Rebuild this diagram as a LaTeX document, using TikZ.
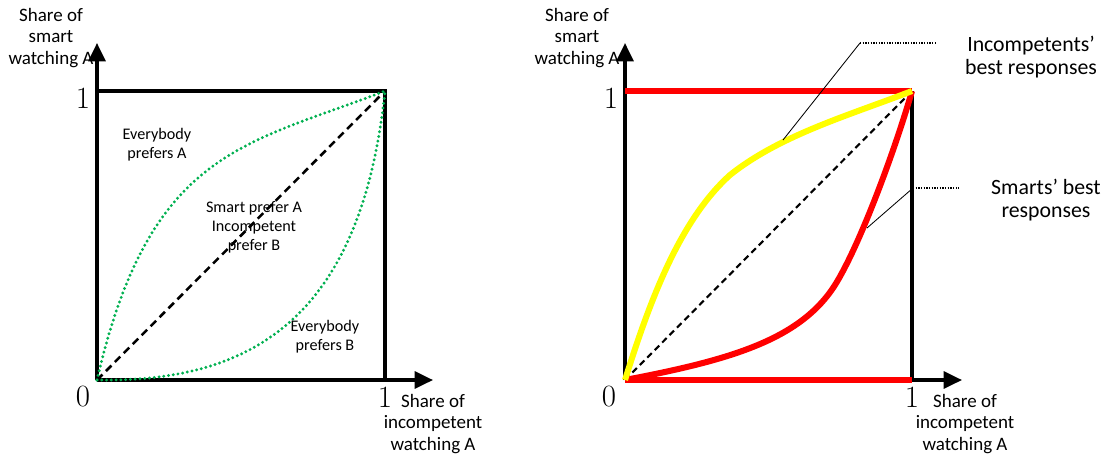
\documentclass[tikz,border=0pt]{standalone}
\usepackage{fontspec}
\newfontfamily\calibri{Carlito}
\usetikzlibrary{arrows.meta}
\definecolor{dotgreen}{RGB}{0,176,80}
\definecolor{brred}{RGB}{255,0,0}
\definecolor{bryellow}{RGB}{255,255,0}
\tikzset{
  axis/.style={line width=2.4pt, -{Triangle[length=13pt,width=12pt]}},
  frame/.style={line width=2.2pt},
  axislabel/.style={font=\calibri\fontsize{13.5}{15.6}\selectfont, align=center, inner sep=0pt},
  calloutlabel/.style={font=\calibri\fontsize{15.5}{16.5}\selectfont, align=center, inner sep=0pt},
  region/.style={font=\calibri\fontsize{11.5}{13.5}\selectfont, align=center, inner sep=0pt},
  tick/.style={font=\fontsize{22}{26}\selectfont, inner sep=0pt},
  diag/.style={line width=1.8pt, dash pattern=on 5.5pt off 3.5pt},
  pref/.style={dotgreen, line width=2.3pt, line cap=round, dash pattern=on 0pt off 3.4pt},
  resp/.style={line width=4.3pt},
  callout/.style={line width=0.6pt},
  leader/.style={line width=0.9pt, densely dotted}
}
\begin{document}
\begin{tikzpicture}[x=0.025cm, y=-0.025cm]
    \useasboundingbox (0,0) rectangle (1105,462);

    % Panneau gauche
    \coordinate (O1) at (97,380);
    \coordinate (X1) at (385,380);
    \coordinate (Y1) at (97,91);
    \coordinate (C1) at (385,91);
    \draw[axis] (O1) -- (97,43) coordinate (Ytip1);
    \draw[axis] (O1) -- (433,380) coordinate (Xtip1);
    \draw[frame] (Y1) -- (C1) -- (X1);
    \draw[diag] (O1) -- (C1);
    \draw[pref] (O1) .. controls (150,150) and (245,145) .. (C1);
    \draw[pref] (O1) .. controls (240,382) and (360,330) .. (C1);

    \node[axislabel] (ylab1) at (51,38) {Share of\\smart\\watching A};
    \node[axislabel] (xlab1) at (433,424) {Share of\\incompetent\\watching A};
    \node[tick] (one1y) at (83,98) {1};
    \node[tick] (zero1) at (83,397) {0};
    \node[tick] (one1x) at (385,397) {1};
    \node[region] (allA) at (157,145) {Everybody\\prefers A};
    \node[region] (mixed) at (254,227) {Smart prefer A\\Incompetent\\prefer B};
    \node[region] (allB) at (325,337) {Everybody\\prefers B};

    % Panneau droit
    \coordinate (O2) at (625,380);
    \coordinate (X2) at (912,380);
    \coordinate (Y2) at (625,91);
    \coordinate (C2) at (912,91);
    \draw[axis] (O2) -- (625,43) coordinate (Ytip2);
    \draw[axis] (O2) -- (962,380) coordinate (Xtip2);
    \draw[frame] (C2) -- (X2);
    \draw[diag, line width=1.5pt, dash pattern=on 4.5pt off 3pt] (O2) -- (C2);
    \draw[resp, brred] (Y2) -- (C2);
    \draw[resp, brred] (O2) -- (X2);
    \draw[resp, brred] (O2) .. controls (730,360) and (800,340) .. (835,285)
                       .. controls (860,245) and (895,150) .. (C2);
    \draw[resp, bryellow] (O2) .. controls (650,300) and (680,220) .. (730,175)
                          .. controls (780,135) and (850,115) .. (C2);

    \node[axislabel] (ylab2) at (577,38) {Share of\\smart\\watching A};
    \node[axislabel] (xlab2) at (965,424) {Share of\\incompetent\\watching A};
    \node[tick] (one2y) at (611,98) {1};
    \node[tick] (zero2) at (609,397) {0};
    \node[tick] (one2x) at (912,397) {1};

    % Legendes
    \node[calloutlabel] (incomp) at (1031,57) {Incompetents’\\best responses};
    \node[calloutlabel] (smarts) at (1046,200) {Smarts’ best\\responses};
    \coordinate (yhit) at (783,140);
    \coordinate (yknee) at (860,43);
    \coordinate (yend) at (937,43);
    \coordinate (rhit) at (867,228);
    \coordinate (rknee) at (913,188);
    \coordinate (rend) at (959,188);
    \draw[callout] (yhit) -- (yknee);
    \draw[leader] (yknee) -- (yend);
    \draw[callout] (rhit) -- (rknee);
    \draw[leader] (rknee) -- (rend);
\end{tikzpicture}
\end{document}
